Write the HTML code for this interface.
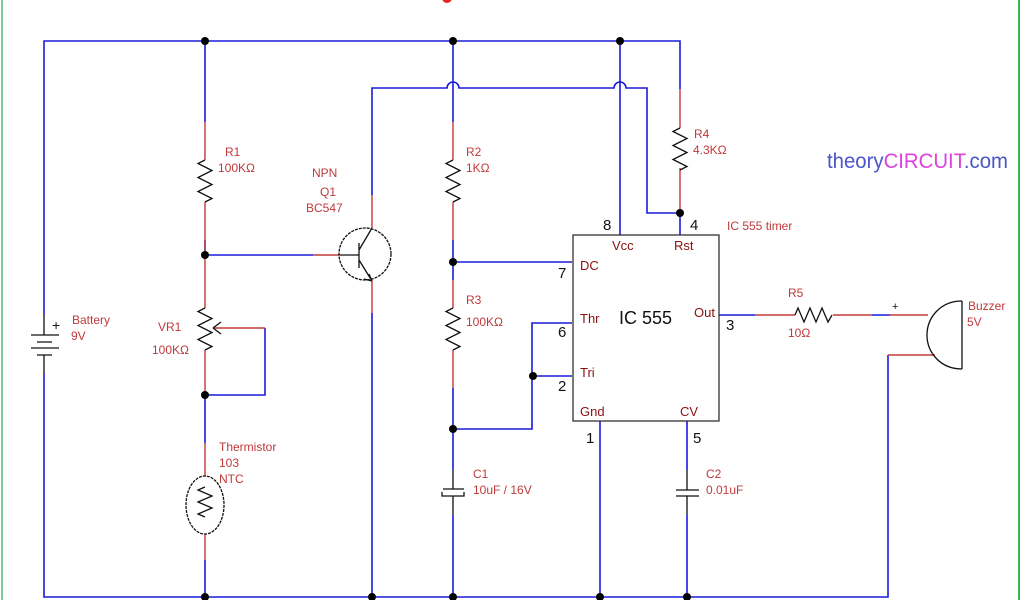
<!DOCTYPE html>
<html><head><style>body{margin:0;background:#fff}svg{display:block}text{font-family:"Liberation Sans",sans-serif}</style></head><body>
<svg width="1024" height="600" viewBox="0 0 1024 600">
<line x1="2" y1="0" x2="2" y2="600" stroke="#7fc79a" stroke-width="2"/>
<line x1="1019" y1="0" x2="1019" y2="600" stroke="#3cb34a" stroke-width="2"/>
<circle cx="447" cy="-2" r="5" fill="#e22"/>
<g fill="none" stroke="#1a1adc" stroke-width="1.6">
<path d="M44 315V41H680V89"/>
<path d="M44 373V597H888V355"/>
<path d="M205 41V122M205 240V255M205 395V443M205 560V597"/>
<path d="M205 255H313"/>
<path d="M265 328V395H205"/>
<path d="M372 195V88H447a6 6 0 0 1 12 0H614a6 6 0 0 1 12 0H647V213H680"/>
<path d="M372 313V597"/>
<path d="M453 41V122M453 240V280M453 388V470M453 515V597"/>
<path d="M453 262H572M453 429H532V323H572M533 376H572"/>
<path d="M620 41V235M680 213V235M600 421V597M687 421V470M687 515V597"/>
<path d="M719 315H755M872 315H890"/>
</g>
<g fill="none" stroke="#c43a3a" stroke-width="1.4">
<path d="M205 122V160M205 202V255M205 255V308M205 350V395M205 443V476M205 534V560"/>
<path d="M313 255H340M372 195V228M372 281V313"/>
<path d="M453 122V160M453 202V240M453 280V308M453 350V388"/>
<path d="M680 89V128M680 168V213"/>
<path d="M755 315H795M833 315H872M890 315H928M888 355H935"/>
<path d="M213 328H265"/>
</g>
<g fill="none" stroke="#111" stroke-width="1.3">
<path d="M44 315V335M31 335H59M37 342H52M31 348H59M37 355H52M44 355V373"/>
<path d="M205 160l-7 3.5 14 7-14 7 14 7-14 7 14 7-7 3.5"/>
<path d="M205 308l-7 3.5 14 7-14 7 14 7-14 7 14 7-7 3.5"/>
<path d="M213 328l8-6M213 328l8 6"/>
<path d="M205 487l-7 3 14 6-14 6 14 6-14 6 7 3"/>
<ellipse cx="205" cy="505" rx="19" ry="29" stroke-dasharray="3 1"/>
<circle cx="365" cy="254" r="26" stroke-dasharray="3 1"/>
<path d="M340 255H359M359 243V268M359 250L372 228M359 260L372 281M372 281l-8-2M372 281l-3-7"/>
<path d="M453 160l-7 3.5 14 7-14 7 14 7-14 7 14 7-7 3.5"/>
<path d="M453 308l-7 3.5 14 7-14 7 14 7-14 7 14 7-7 3.5"/>
<path d="M453 470V489M443 489H464M442 492V496H464V492M453 496V515"/>
<path d="M680 128l-7 3.5 14 7-14 7 14 7-14 7 14 7-7 3.5"/>
<path d="M687 470V490M676 490H699M676 496H699M687 496V515"/>
<path d="M795 315l3-7 6 14 6-14 6 14 6-14 6 14 4-7"/>
<path d="M962 301V369M962 301C940 301 927 318 927 335C927 352 940 369 962 369"/>
<rect x="573" y="235" width="146" height="186" stroke="#333"/>
</g>
<g fill="#000">
<circle cx="205" cy="41" r="4"/><circle cx="453" cy="41" r="4"/><circle cx="620" cy="41" r="4"/>
<circle cx="205" cy="255" r="4"/><circle cx="205" cy="395" r="4"/><circle cx="453" cy="262" r="4"/>
<circle cx="453" cy="429" r="4"/><circle cx="533" cy="376" r="4"/><circle cx="680" cy="213" r="4"/>
<circle cx="205" cy="597" r="4"/><circle cx="372" cy="597" r="4"/><circle cx="453" cy="597" r="4"/>
<circle cx="600" cy="597" r="4"/><circle cx="687" cy="597" r="4"/>
</g>
<g fill="#c0393b" font-size="12">
<text x="72" y="324">Battery</text><text x="71" y="340">9V</text>
<text x="225" y="156">R1</text><text x="218" y="172">100KΩ</text>
<text x="312" y="177">NPN</text><text x="320" y="196">Q1</text><text x="306" y="212">BC547</text>
<text x="158" y="331">VR1</text><text x="152" y="354">100KΩ</text>
<text x="219" y="451">Thermistor</text><text x="219" y="467">103</text><text x="219" y="483">NTC</text>
<text x="466" y="156">R2</text><text x="466" y="172">1KΩ</text>
<text x="466" y="304">R3</text><text x="466" y="326">100KΩ</text>
<text x="473" y="478">C1</text><text x="473" y="494">10uF / 16V</text>
<text x="694" y="138">R4</text><text x="693" y="154">4.3KΩ</text>
<text x="727" y="230">IC 555 timer</text>
<text x="788" y="297">R5</text><text x="788" y="337">10Ω</text>
<text x="968" y="310">Buzzer</text><text x="967" y="326">5V</text>
<text x="706" y="478">C2</text><text x="706" y="494">0.01uF</text>
</g>
<g fill="#8b1010" font-size="13">
<text x="612" y="250">Vcc</text><text x="674" y="250">Rst</text>
<text x="580" y="270">DC</text><text x="580" y="323">Thr</text><text x="580" y="377">Tri</text>
<text x="694" y="317">Out</text><text x="580" y="416">Gnd</text><text x="680" y="416">CV</text>
</g>
<g fill="#111" font-size="15">
<text x="603" y="230">8</text><text x="690" y="230">4</text><text x="558" y="278">7</text>
<text x="558" y="337">6</text><text x="558" y="391">2</text><text x="726" y="330">3</text>
<text x="586" y="443">1</text><text x="693" y="443">5</text>
<text x="619" y="324" font-size="18">IC 555</text>
</g>
<text x="52" y="330" font-size="14" fill="#111">+</text>
<text x="892" y="310" font-size="11" fill="#111">+</text>
<text x="827" y="168" font-size="21" fill="#4a55c8" textLength="181" lengthAdjust="spacingAndGlyphs">theory<tspan fill="#e040e0">CIRCUIT</tspan>.com</text>
</svg>
</body></html>
